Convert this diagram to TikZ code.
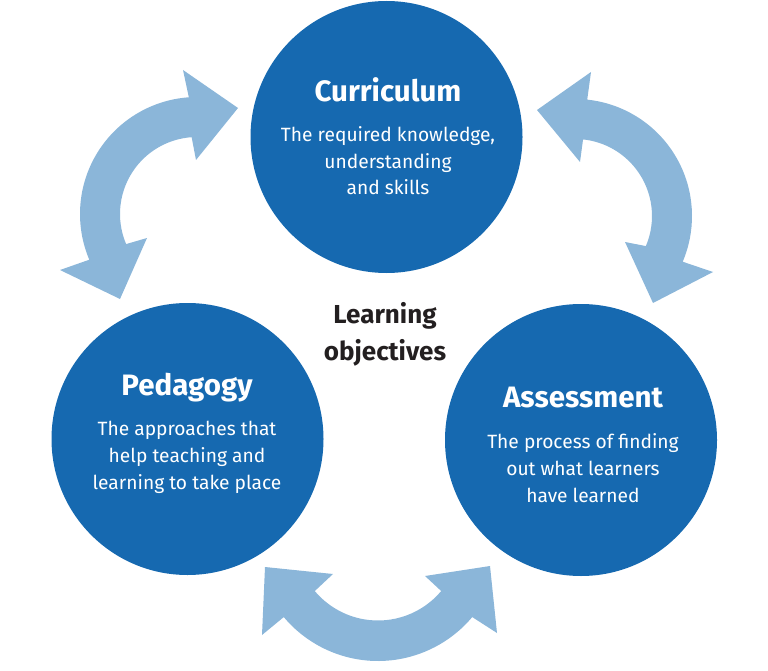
\documentclass[tikz,border=0pt]{standalone}
\usepackage{fontspec}
\setmainfont{Fira Sans}
\usetikzlibrary{calc}
\definecolor{circblue}{RGB}{22,105,176}
\definecolor{arrowblue}{RGB}{139,182,217}
\definecolor{darktext}{RGB}{35,31,32}
\begin{document}
\begin{tikzpicture}[x=1pt,y=-1pt,
  circ/.style={circle,fill=circblue,draw=none,inner sep=0pt,minimum size=272pt},
  arrowfill/.style={fill=arrowblue,draw=none},
  titletext/.style={text=white,inner sep=0pt,font=\fontsize{29.5}{34}\selectfont\bfseries},
  bodytext/.style={text=white,inner sep=0pt,align=center,font=\fontsize{19.2}{26.7}\selectfont},
  centertext/.style={text=darktext,inner sep=0pt,align=center,font=\fontsize{26}{37}\selectfont\bfseries}]
\useasboundingbox (0,0) rectangle (768,671);
\coordinate (cL) at (197,214);
\coordinate (cR) at (575,216);
\coordinate (cB) at (378,538);
% arrows
\fill[arrowfill] (238,108) -- (183,70) -- ($(cL)+(-94:117)$) arc[start angle=-94,end angle=-203,radius=117]
  -- (60,270) -- (120,299) -- (147,238) -- ($(cL)+(-203:77)$) arc[start angle=-203,end angle=-94,radius=77]
  -- (196,160) -- cycle;
\fill[arrowfill] (537,110) -- (591,72) -- ($(cR)+(-84:117)$) arc[start angle=-84,end angle=23,radius=117]
  -- (713,272) -- (653,303) -- (625,242) -- ($(cR)+(23:77)$) arc[start angle=23,end angle=-84,radius=77]
  -- (580,162) -- cycle;
\fill[arrowfill] (265,567) -- (262,635) -- ($(cB)+(140:123)$) arc[start angle=140,end angle=40,radius=123]
  -- (497,633) -- (490,566) -- (425,576) -- ($(cB)+(40:82.5)$) arc[start angle=40,end angle=140,radius=82.5]
  -- (333,574) -- cycle;
% circles
\node[circ] (cur) at (386.5,137) {};
\node[circ] (ped) at (187.5,439) {};
\node[circ] (ass) at (581,440) {};
% texts
\node[titletext,anchor=base] (curT) at (388,102) {Curriculum};
\node[bodytext,anchor=base] (curB) at (388,195) {The required knowledge,\\understanding\\and skills};
\node[titletext,anchor=base] (pedT) at (187,395) {Pedagogy};
\node[bodytext,anchor=base] (pedB) at (187,489) {The approaches that\\help teaching and\\learning to take place};
\node[titletext,anchor=base] (assT) at (583,407) {Assessment};
\node[bodytext,anchor=base] (assB) at (583,502) {The process of finding\\out what learners\\have learned};
\node[centertext,anchor=base] (lo) at (385,360) {Learning\\objectives};
\end{tikzpicture}
\end{document}
